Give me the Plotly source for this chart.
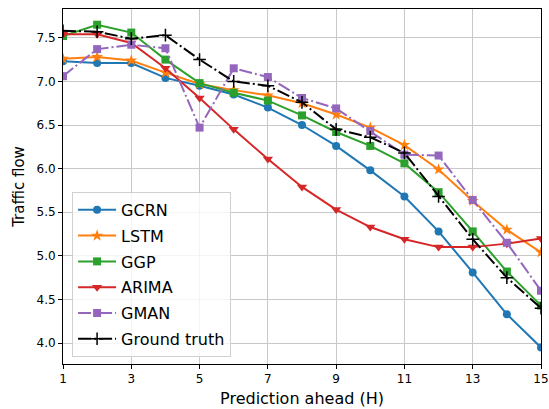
import plotly.graph_objects as go

horizon = list(range(1, 16))
gcrn = [7.23, 7.21, 7.21, 7.04, 6.95, 6.85, 6.70, 6.50, 6.26, 5.98, 5.68, 5.28, 4.81, 4.33, 3.95]
lstm = [7.26, 7.28, 7.24, 7.10, 6.97, 6.90, 6.84, 6.75, 6.62, 6.47, 6.27, 5.99, 5.63, 5.30, 5.04]
ggp = [7.52, 7.65, 7.56, 7.25, 6.98, 6.87, 6.78, 6.61, 6.42, 6.26, 6.06, 5.73, 5.28, 4.82, 4.43]
arima = [7.54, 7.54, 7.44, 7.15, 6.81, 6.45, 6.11, 5.79, 5.53, 5.33, 5.19, 5.10, 5.10, 5.14, 5.20]
gman = [7.06, 7.37, 7.42, 7.38, 6.47, 7.15, 7.05, 6.81, 6.69, 6.43, 6.16, 6.15, 5.64, 5.15, 4.60]
truth = [7.58, 7.57, 7.49, 7.53, 7.25, 7.00, 6.95, 6.76, 6.45, 6.36, 6.18, 5.68, 5.19, 4.75, 4.40]
x_ticks = [1, 3, 5, 7, 9, 11, 13, 15]
y_ticks = [4.0, 4.5, 5.0, 5.5, 6.0, 6.5, 7.0, 7.5]

series = [
    ("GCRN", gcrn, "#1f77b4", "circle", "solid", 8),
    ("LSTM", lstm, "#ff7f0e", "star", "solid", 9),
    ("GGP", ggp, "#2ca02c", "square", "solid", 8),
    ("ARIMA", arima, "#d62728", "triangle-down", "solid", 9),
    ("GMAN", gman, "#9467bd", "square", "13px,3px,2px,3px", 8),
    ("Ground truth", truth, "black", "cross-thin", "13px,3px,2px,3px", 9),
]

fig = go.Figure()
for name, vals, color, sym, dash, size in series:
    marker = dict(symbol=sym, size=size, color=color)
    if sym == "cross-thin":
        marker["line"] = dict(color=color, width=1.5)
    fig.add_trace(go.Scatter(
        x=horizon, y=vals, name=name, mode="lines+markers",
        line=dict(color=color, width=2, dash=dash),
        marker=marker, legendgroup=name,
    ))

axis_common = dict(
    showline=True, linecolor="black", linewidth=1, mirror=True,
    ticks="outside", ticklen=4, tickcolor="black",
    showgrid=True, gridcolor="#c8c8c8", gridwidth=1,
    zeroline=False, tickfont=dict(size=12, color="black"),
    automargin=False, ticklabeloverflow="allow",
)

fig.update_layout(
    width=549, height=409,
    margin=dict(l=63, r=8, t=9, b=45),
    paper_bgcolor="white", plot_bgcolor="white",
    font=dict(family="DejaVu Sans", color="black"),
    xaxis=dict(range=[1, 15], tickvals=x_ticks,
               title=dict(text="Prediction ahead (H)", font=dict(size=16), standoff=7),
               **axis_common),
    yaxis=dict(range=[3.76, 7.83], tickvals=y_ticks, tickformat=".1f",
               title=dict(text="Traffic flow", font=dict(size=15), standoff=8),
               **axis_common),
    legend=dict(
        x=0.019, y=0.02, xanchor="left", yanchor="bottom",
        bgcolor="rgba(255,255,255,0.8)", bordercolor="#d0d0d0", borderwidth=1,
        font=dict(size=16), tracegroupgap=2, itemwidth=38,
    ),
)

# remove the default 8px page margin so the figure fills the window exactly
fig.write_html(
    "out.html",
    config={"displayModeBar": False},
    post_script="document.body.style.margin='0';document.body.style.overflow='hidden';",
)
